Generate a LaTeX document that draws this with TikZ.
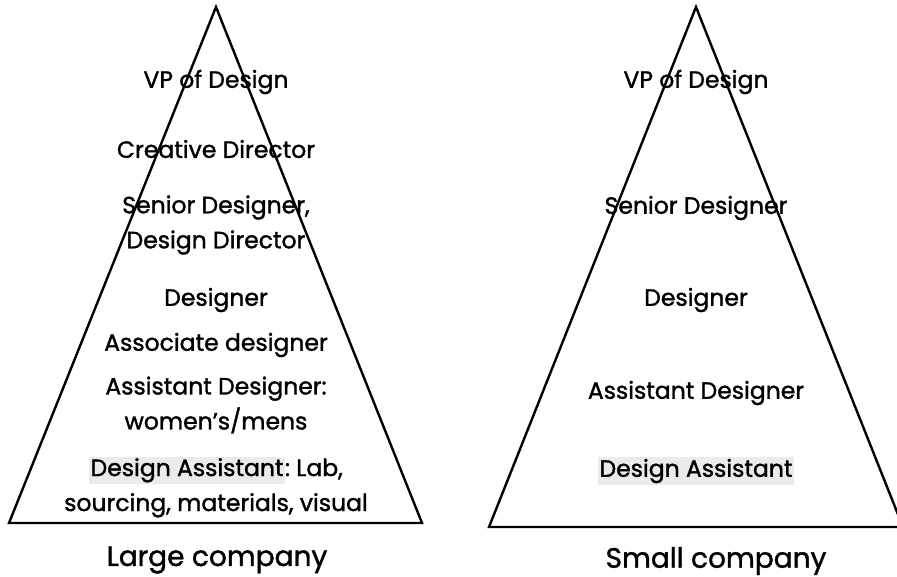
\documentclass[tikz,border=0pt]{standalone}
\usepackage{fontspec}
\setmainfont{Poppins}[FakeBold=1.4]
\usepackage{tikz}

\definecolor{hlgray}{HTML}{EBEBEB}
\newcommand{\hlbox}[1]{{\setlength{\fboxsep}{1.5pt}\colorbox{hlgray}{#1}}}

\tikzset{
  rank/.style={align=center, font=\fontsize{23.5}{35}\selectfont, inner sep=0pt},
  caption/.style={font=\fontsize{28}{32}\selectfont, inner sep=0pt}
}

\begin{document}
\begin{tikzpicture}[x=1pt, y=-1pt]
        \useasboundingbox (0,0) rectangle (897,576);
        \clip (0,0) rectangle (897,576);
        % large company
        \draw[line width=2.4pt, line join=miter] (216,7) -- (422,523) -- (9,523) -- cycle;
        \node[rank] (lvp)  at (216,82)  {VP of Design};
        \node[rank] (lcd)  at (216,149) {Creative Director};
        \node[rank] (lsd)  at (216,225) {Senior Designer,\\Design Director};
        \node[rank] (ld)   at (216,300) {Designer};
        \node[rank] (lad)  at (216,345) {Associate designer};
        \node[rank] (lasd) at (216,405) {Assistant Designer:\\women’s/mens};
        \node[rank] (lda)  at (216,487) {\hlbox{Design Assistant}:~Lab,\\sourcing, materials, visual};
        \node[caption] (large) at (217,560) {Large company};
        % small company
        \draw[line width=2.4pt, line join=miter] (696,7) -- (903,527) -- (489,527) -- cycle;
        \node[rank] (svp)  at (696,82)  {VP of Design};
        \node[rank] (ssd)  at (696,208) {Senior Designer};
        \node[rank] (sd)   at (696,300) {Designer};
        \node[rank] (sasd) at (696,393) {Assistant Designer};
        \node[rank] (sda)  at (696,471) {\hlbox{Design Assistant}};
        \node[caption] (small) at (716,561) {Small company};
\end{tikzpicture}
\end{document}
